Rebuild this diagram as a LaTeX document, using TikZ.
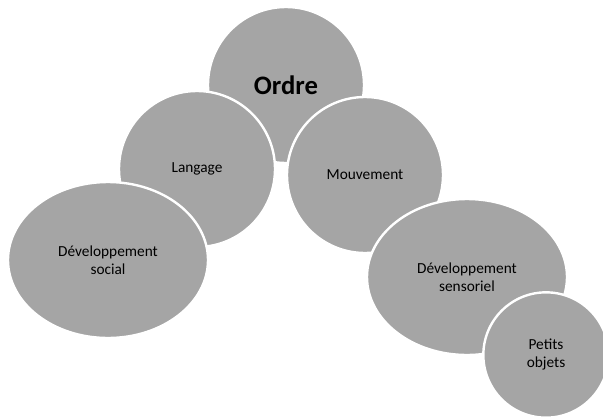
\documentclass[tikz,border=0pt]{standalone}
\usepackage{fontspec}
\setmainfont{Carlito}
\usepackage{tikz}
\usetikzlibrary{shapes.geometric}
\definecolor{BubbleGray}{HTML}{A5A5A5}
\definecolor{BubbleText}{HTML}{000000}

\tikzset{
  bubble/.style={fill=BubbleGray,draw=white,line width=1.8pt,inner sep=0pt,
    align=center,text=BubbleText,font=\fontsize{11.5}{13.5}\selectfont},
  roundbubble/.style={bubble,circle},
  widebubble/.style={bubble,ellipse,minimum width=150pt,minimum height=117pt}
}

\begin{document}
\begin{tikzpicture}[x=0.75pt,y=-0.75pt]
  \useasboundingbox (0,0) rectangle (603,418);
  % centre circle
  \node[roundbubble,minimum size=117pt,font=\fontsize{20}{24}\selectfont\bfseries]
    (ordre) at (286,85) {Ordre};
  % left side
  \node[roundbubble,minimum size=117pt] (langage) at (197,169) {Langage};
  % right side
  \node[roundbubble,minimum size=117pt] (mouvement) at (365,175) {Mouvement};
  \node[widebubble] (social) at (108,260) {Développement\\social};
  \node[widebubble] (sensoriel) at (467,277) {Développement\\sensoriel};
  \node[roundbubble,minimum size=94pt] (objets) at (546,355) {Petits\\objets};
\end{tikzpicture}
\end{document}
